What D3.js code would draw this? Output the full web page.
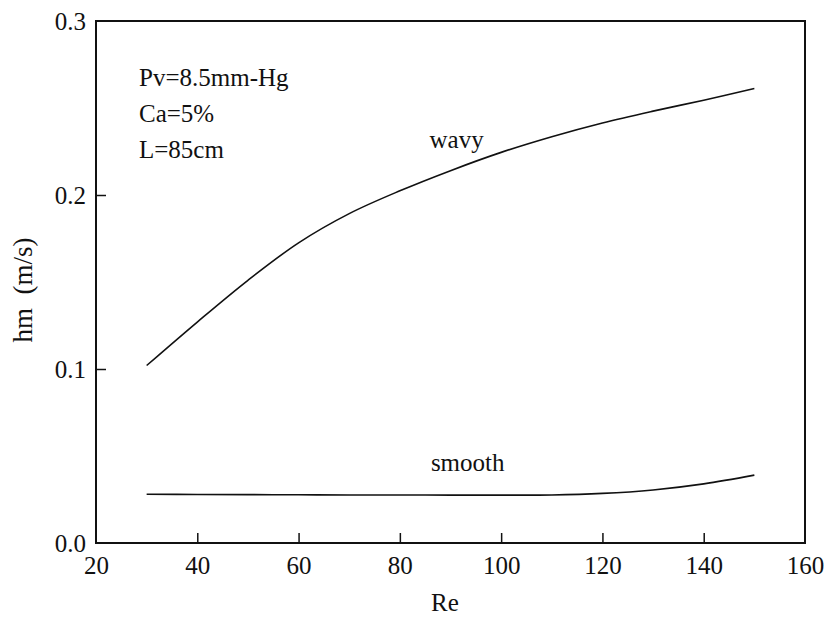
<!DOCTYPE html>
<html>
<head>
<meta charset="utf-8">
<script src="https://cdn.jsdelivr.net/npm/d3@7"></script>
</head>
<body style="margin:0">
<svg id="chart" width="827" height="628"></svg>
<script>
// Reynolds number samples
const reValues = [30, 40, 50, 60, 70, 80, 90, 100, 110, 120, 130, 140, 150];
// mass transfer coefficient, wavy film (m/s)
const wavyHm = [0.102, 0.127, 0.151, 0.1725, 0.1893, 0.2024, 0.214, 0.2245, 0.2335, 0.2414, 0.2482, 0.2545, 0.2612];
// mass transfer coefficient, smooth film (m/s)
const smoothHm = [0.028, 0.0279, 0.0278, 0.0277, 0.0276, 0.0276, 0.0275, 0.0275, 0.0276, 0.0285, 0.0305, 0.034, 0.039];

const xTicks = [20, 40, 60, 80, 100, 120, 140, 160];
const yTicks = [0.0, 0.1, 0.2, 0.3];
const conditions = ["Pv=8.5mm-Hg", "Ca=5%", "L=85cm"];
const seriesLabels = [
  { name: "wavy", re: 91.2, hm: 0.2268 },
  { name: "smooth", re: 93.4, hm: 0.0416 }
];

const svg = d3.select("#chart");
const margin = { left: 96, right: 22, top: 21, bottom: 85 };
const W = 827, H = 628;

const x = d3.scaleLinear().domain([20, 160]).range([margin.left, W - margin.right]);
const y = d3.scaleLinear().domain([0, 0.3]).range([H - margin.bottom, margin.top]);

function serif(sel, size = 25) {
  return sel.attr("font-size", size).attr("fill", "#111")
    .style("font-family", '"Liberation Serif"');
}

const g = svg.append("g");

// frame
g.append("rect")
  .attr("x", x(20)).attr("y", y(0.3))
  .attr("width", x(160) - x(20)).attr("height", y(0) - y(0.3))
  .attr("fill", "none").attr("stroke", "#111").attr("stroke-width", 2);

// bottom axis, ticks pointing inward
const xAxis = d3.axisBottom(x).tickValues(xTicks).tickSize(-10).tickPadding(13)
  .tickFormat(d3.format("d"));
const xg = g.append("g").attr("transform", `translate(0,${y(0)})`).call(xAxis);
xg.attr("font-family", null).attr("font-size", null);
xg.select(".domain").remove();
xg.selectAll(".tick line").attr("stroke", "#111").attr("stroke-width", 1.5)
  .filter(d => d === 20 || d === 160).remove();
serif(xg.selectAll(".tick text"));

// left axis, ticks pointing inward
const yAxis = d3.axisLeft(y).tickValues(yTicks).tickSize(-10).tickPadding(10)
  .tickFormat(d3.format(".1f"));
const yg = g.append("g").attr("transform", `translate(${x(20)},0)`).call(yAxis);
yg.attr("font-family", null).attr("font-size", null);
yg.select(".domain").remove();
yg.selectAll(".tick line").attr("stroke", "#111").attr("stroke-width", 1.5)
  .filter(d => d === 0 || d === 0.3).remove();
serif(yg.selectAll(".tick text"));

// axis titles
serif(svg.append("text"))
  .attr("x", 445).attr("y", 611)
  .attr("text-anchor", "middle").text("Re");
serif(svg.append("text"), 27)
  .attr("transform", `translate(32,${(y(0) + y(0.3)) / 2 + 8}) rotate(-90)`)
  .attr("text-anchor", "middle").style("white-space", "pre").text("hm  (m/s)");

// curves
const line = d3.line().curve(d3.curveCatmullRom.alpha(0.5))
  .x(d => x(d[0])).y(d => y(d[1]));
[wavyHm, smoothHm].forEach(vals => {
  g.append("path")
    .datum(reValues.map((r, i) => [r, vals[i]]))
    .attr("d", line)
    .attr("fill", "none").attr("stroke", "#111").attr("stroke-width", 1.6);
});

// series labels
seriesLabels.forEach(s => {
  serif(g.append("text"))
    .attr("x", x(s.re)).attr("y", y(s.hm))
    .attr("text-anchor", "middle").text(s.name);
});

// test conditions
serif(g.selectAll(".cond").data(conditions).join("text"))
  .attr("class", "cond")
  .attr("x", 139).attr("y", (d, i) => 86 + i * 36)
  .text(d => d);
</script>
</body>
</html>
